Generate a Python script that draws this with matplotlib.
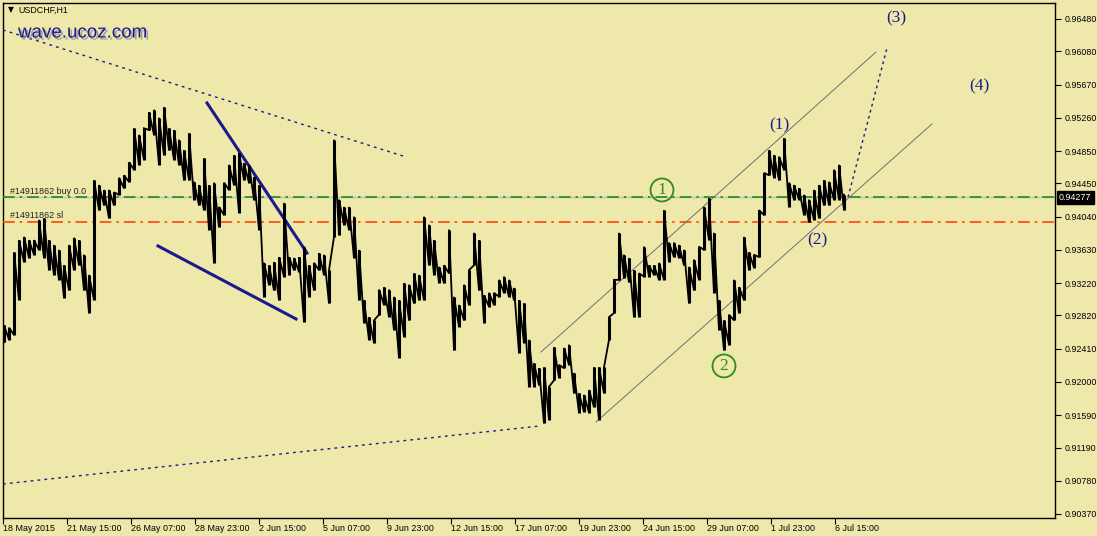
import matplotlib
matplotlib.use("Agg")
import matplotlib.pyplot as plt
import matplotlib.patheffects as pe
import matplotlib.transforms as mtransforms
import numpy as np

# ---------------- data ----------------
symbol = "USDCHF,H1"
site = "wave.ucoz.com"
hours_per_sample = 5
first_sample_hour = 1

bar_high = [0.9270, 0.9267, 0.9360, 0.9375, 0.9379, 0.9375, 0.9375, 0.9400, 0.9402, 0.9375,
            0.9369, 0.9363, 0.9344, 0.9369, 0.9378, 0.9375, 0.9357, 0.9332, 0.9449, 0.9443,
            0.9437, 0.9437, 0.9434, 0.9452, 0.9455, 0.9471, 0.9513, 0.9505, 0.9513, 0.9533,
            0.9536, 0.9526, 0.9539, 0.9513, 0.9511, 0.9499, 0.9486, 0.9507, 0.9447, 0.9443,
            0.9476, 0.9443, 0.9446, 0.9416, 0.9446, 0.9468, 0.9480, 0.9483, 0.9470, 0.9468,
            0.9453, 0.9443, 0.9347, 0.9344, 0.9348, 0.9354, 0.9421, 0.9354, 0.9353, 0.9354,
            0.9367, 0.9344, 0.9347, 0.9359, 0.9357, 0.9338, 0.9499, 0.9425, 0.9416, 0.9416,
            0.9404, 0.9363, 0.9301, 0.9280, 0.9276, 0.9314, 0.9317, 0.9314, 0.9305, 0.9301,
            0.9322, 0.9320, 0.9334, 0.9332, 0.9404, 0.9394, 0.9375, 0.9342, 0.9344, 0.9388,
            0.9305, 0.9295, 0.9320, 0.9338, 0.9384, 0.9375, 0.9307, 0.9310, 0.9310, 0.9326,
            0.9330, 0.9326, 0.9316, 0.9301, 0.9297, 0.9252, 0.9223, 0.9217, 0.9218, 0.9194,
            0.9243, 0.9221, 0.9242, 0.9246, 0.9211, 0.9186, 0.9184, 0.9190, 0.9218, 0.9218,
            0.9218, 0.9280, 0.9326, 0.9384, 0.9357, 0.9353, 0.9338, 0.9334, 0.9367, 0.9344,
            0.9344, 0.9347, 0.9412, 0.9372, 0.9372, 0.9369, 0.9363, 0.9342, 0.9351, 0.9367,
            0.9416, 0.9427, 0.9384, 0.9301, 0.9276, 0.9283, 0.9326, 0.9317, 0.9379, 0.9360,
            0.9357, 0.9412, 0.9458, 0.9486, 0.9480, 0.9478, 0.9501, 0.9446, 0.9443, 0.9439,
            0.9431, 0.9425, 0.9437, 0.9443, 0.9449, 0.9447, 0.9462, 0.9468, 0.9431]

bar_low = [0.9249, 0.9252, 0.9258, 0.9301, 0.9348, 0.9353, 0.9357, 0.9363, 0.9353, 0.9338,
           0.9332, 0.9326, 0.9304, 0.9313, 0.9338, 0.9344, 0.9313, 0.9285, 0.9301, 0.9412,
           0.9418, 0.9402, 0.9418, 0.9431, 0.9439, 0.9447, 0.9462, 0.9468, 0.9474, 0.9511,
           0.9505, 0.9468, 0.9480, 0.9486, 0.9474, 0.9468, 0.9449, 0.9449, 0.9425, 0.9418,
           0.9412, 0.9388, 0.9347, 0.9391, 0.9406, 0.9437, 0.9443, 0.9409, 0.9449, 0.9446,
           0.9425, 0.9388, 0.9305, 0.9320, 0.9313, 0.9301, 0.9330, 0.9332, 0.9338, 0.9336,
           0.9274, 0.9305, 0.9313, 0.9338, 0.9332, 0.9297, 0.9379, 0.9381, 0.9394, 0.9388,
           0.9353, 0.9301, 0.9273, 0.9252, 0.9248, 0.9283, 0.9295, 0.9280, 0.9264, 0.9230,
           0.9256, 0.9276, 0.9297, 0.9301, 0.9301, 0.9344, 0.9332, 0.9322, 0.9322, 0.9334,
           0.9239, 0.9268, 0.9276, 0.9295, 0.9344, 0.9313, 0.9273, 0.9293, 0.9295, 0.9305,
           0.9310, 0.9305, 0.9301, 0.9236, 0.9248, 0.9194, 0.9194, 0.9196, 0.9149, 0.9153,
           0.9202, 0.9205, 0.9217, 0.9221, 0.9186, 0.9162, 0.9163, 0.9162, 0.9169, 0.9153,
           0.9186, 0.9252, 0.9285, 0.9326, 0.9328, 0.9323, 0.9280, 0.9280, 0.9330, 0.9330,
           0.9332, 0.9326, 0.9326, 0.9348, 0.9354, 0.9353, 0.9344, 0.9297, 0.9313, 0.9326,
           0.9363, 0.9375, 0.9310, 0.9264, 0.9239, 0.9246, 0.9276, 0.9285, 0.9301, 0.9338,
           0.9341, 0.9354, 0.9406, 0.9455, 0.9452, 0.9449, 0.9462, 0.9416, 0.9425, 0.9425,
           0.9406, 0.9397, 0.9400, 0.9402, 0.9418, 0.9418, 0.9425, 0.9425, 0.9412]

date_labels = ["18 May 2015", "21 May 15:00", "26 May 07:00", "28 May 23:00", "2 Jun 15:00",
               "5 Jun 07:00", "9 Jun 23:00", "12 Jun 15:00", "17 Jun 07:00", "19 Jun 23:00",
               "24 Jun 15:00", "29 Jun 07:00", "1 Jul 23:00", "6 Jul 15:00"]
hours_per_date_tick = 64

price_ticks = [0.96480, 0.96080, 0.95670, 0.95260, 0.94850, 0.94450, 0.94040, 0.93630,
               0.93220, 0.92820, 0.92410, 0.92000, 0.91590, 0.91190, 0.90780, 0.90370]

current_price = 0.94277
sl_price = 0.93974
order_buy_label = "#14911862 buy 0.0"
order_sl_label = "#14911862 sl"

# drawn analysis objects: (hour0, price0, hour1, price1)
dotted_upper = (0, 0.96344, 400, 0.94788)
dotted_lower = (0, 0.90740, 537, 0.91456)
wedge_top = (204, 0.95443, 304, 0.93591)
wedge_bottom = (155, 0.93678, 293, 0.92777)
channel_upper = (538, 0.92369, 873, 0.96072)
channel_lower = (593, 0.91505, 929, 0.95184)
projection = (845, 0.94280, 884, 0.96122)

wave_labels = ["(1)", "(2)", "(3)", "(4)"]
wave_hours = [776, 814, 893, 976]
wave_prices = [0.95171, 0.93752, 0.96492, 0.95653]
circle_labels = ["1", "2"]
circle_hours = [659, 721]
circle_prices = [0.94369, 0.92197]

# ---------------- style ----------------
BG = "#EEE8AA"
NAVY = "#1a1a8c"
GREEN = "#2e8b1e"
W, H = 1097, 536
YTOP, YBOT = 0.96677, 0.90320

fig = plt.figure(figsize=(W / 100, H / 100), dpi=100, facecolor=BG)
ax = fig.add_axes([3 / W, 18 / H, 1052 / W, 515 / H])
ax.set_facecolor(BG)
ax.set_xlim(0, 1052)
ax.set_ylim(YBOT, YTOP)

small = dict(family="Liberation Sans", size=6.4)

# price trace: sawtooth through each sample's low and high (hourly bars sampled every 5 h)
hours = first_sample_hour + hours_per_sample * np.arange(len(bar_high))
px = np.repeat(hours, 2)
py = np.column_stack([bar_low, bar_high]).ravel()
ax.plot(px, py, color="black", lw=1.3, zorder=5, solid_joinstyle="miter")
ax.vlines(hours, bar_low, bar_high, color="black", lw=2.2, zorder=5)

# order lines
ax.axhline(current_price, color="#c0c0c0", lw=1.0, zorder=2)
ax.axhline(current_price, color="#1e8c1e", lw=1.2, ls=(0, (7, 3, 1.5, 3)), zorder=3)
ax.axhline(sl_price, color="#ff4500", lw=1.2, ls=(0, (7, 3, 1.5, 3)), zorder=3)
ax.text(7, current_price + 0.0002, order_buy_label, ha="left", va="bottom", color="#202020",
        zorder=6, **small)
ax.text(7, sl_price + 0.0002, order_sl_label, ha="left", va="bottom", color="#202020",
        zorder=6, **small)

def seg(s, **kw):
    ax.plot([s[0], s[2]], [s[1], s[3]], **kw)

seg(dotted_upper, color=NAVY, lw=1.0, ls=(0, (2, 3)), zorder=4)
seg(dotted_lower, color=NAVY, lw=1.0, ls=(0, (2, 3)), zorder=4)
seg(projection, color=NAVY, lw=1.0, ls=(0, (2, 2.5)), zorder=4)
seg(wedge_top, color=NAVY, lw=2.2, zorder=4)
seg(wedge_bottom, color=NAVY, lw=2.2, zorder=4)
seg(channel_upper, color="#707070", lw=0.7, zorder=4)
seg(channel_lower, color="#707070", lw=0.7, zorder=4)

for t, xh, yp in zip(wave_labels, wave_hours, wave_prices):
    ax.text(xh, yp, t, ha="center", va="center", color=NAVY, family="Liberation Serif",
            size=12.5, zorder=7)
for t, xh, yp in zip(circle_labels, circle_hours, circle_prices):
    ax.text(xh, yp, t, ha="center", va="center", color=GREEN, family="Liberation Serif",
            size=12.5, zorder=7,
            bbox=dict(boxstyle="circle,pad=0.2", fc="none", ec=GREEN, lw=1.3))

# title + site
fig.text(8 / W, 1 - 10 / H, "\u25BC", color="black", size=5.5, ha="left", va="center",
         family="DejaVu Sans")
fig.text(18 / W, 1 - 10 / H, symbol, color="black", ha="left", va="center", **small)
fig.text(18 / W, 1 - 33 / H, site, color=NAVY, ha="left", va="center",
         family="Liberation Sans", size=13.5, zorder=8,
         path_effects=[pe.withSimplePatchShadow(offset=(1.5, -1.5), shadow_rgbFace="#8080a8",
                                                alpha=0.7)])

# axes / ticks
for s in ax.spines.values():
    s.set_color("black")
    s.set_linewidth(1.0)
ax.yaxis.tick_right()
ax.set_yticks(price_ticks)
ax.set_yticklabels([f"{v:.5f}" for v in price_ticks], **small)
ax.tick_params(axis="y", direction="out", length=4, width=0.8, pad=3, colors="black")
xt = hours_per_date_tick * np.arange(len(date_labels))
ax.set_xticks(xt)
ax.set_xticklabels(date_labels, ha="left", **small)
ax.tick_params(axis="x", direction="out", length=4, width=0.8, pad=0.5, colors="black")

# current price box on right axis
trans = mtransforms.blended_transform_factory(ax.transAxes, ax.transData)
ax.text(1.0 + 4 / 1052, current_price, f"{current_price:.5f}", transform=trans, ha="left",
        va="center", color="white", zorder=10, clip_on=False,
        bbox=dict(boxstyle="square,pad=0.25", fc="black", ec="black"), **small)

fig.savefig("out.png", dpi=100, facecolor=BG)
